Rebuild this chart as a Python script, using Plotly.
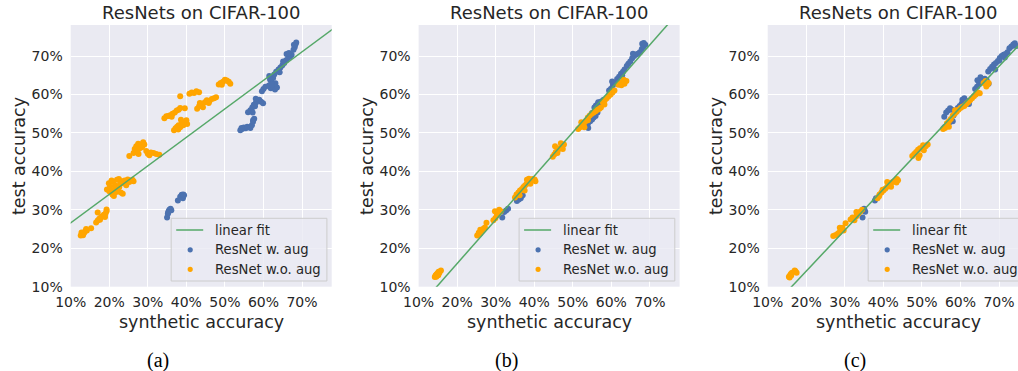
import plotly.graph_objects as go

W, H = 1018, 371

# ---------------- data (percent) ----------------
A_AUG = [(35.0,28.0),(35.2,29.0),(35.4,29.6),(35.6,30.0),(35.9,30.3),(36.1,29.9),(35.3,29.3),
         (37.8,32.4),(38.4,33.4),(38.8,33.9),(39.1,33.0),(39.4,33.8),(39.2,34.0),
         (54.0,50.7),(54.5,51.0),(54.9,51.4),(55.4,51.2),(55.8,51.6),(54.3,51.3),
         (56.6,51.3),(57.0,52.0),(57.3,52.9),(57.6,53.7),(57.3,53.3),
         (56.0,55.4),(56.6,55.9),(57.1,56.6),(57.5,57.3),(58.0,57.8),(58.4,58.3),(58.9,58.6),
         (59.4,58.1),(59.9,57.7),(58.0,58.9),(57.2,55.3),(57.8,56.9),
         (59.6,60.8),(60.0,61.4),(60.5,62.0),
         (61.4,62.3),(61.9,61.6),(62.4,61.9),(63.0,61.3),(63.5,61.8),(62.0,63.4),(62.5,64.3),
         (61.7,63.9),(61.5,64.8),(63.1,62.9),(62.2,62.6),
         (62.8,65.2),(63.3,65.9),(63.9,66.5),(64.4,67.0),(64.9,67.6),(65.4,68.2),(65.9,68.9),
         (66.4,69.5),(66.9,69.9),(67.3,70.3),(66.0,70.5),(65.1,68.6),(64.2,65.8),(66.6,70.8),
         (67.8,71.6),(68.1,72.3),(68.3,73.0),(68.5,73.5),(67.9,72.9)]
A_NOAUG = [(12.6,23.3),(12.9,23.6),(13.2,23.4),(13.5,24.0),(13.8,24.5),(14.0,25.0),(13.3,23.9),
           (12.8,24.1),(15.3,25.2),(14.2,24.6),
           (16.6,26.7),(17.0,27.2),(17.4,27.7),(17.8,28.0),(18.2,28.3),(18.6,28.7),(19.0,29.0),
           (19.3,29.6),(19.3,30.1),(17.0,29.3),(18.9,28.1),(17.6,27.4),
           (19.4,35.3),(19.9,36.9),(20.2,36.0),(20.5,35.0),(20.8,34.0),(21.0,37.3),(21.2,33.6),
           (21.5,36.4),(21.8,34.6),(22.0,37.8),(22.2,35.2),(22.5,38.0),(22.8,36.7),(23.0,34.5),
           (23.2,37.4),(23.5,34.2),(23.8,36.9),(24.0,37.6),(24.4,36.4),(24.8,37.9),(25.2,37.2),
           (26.0,37.8),(26.3,37.4),(20.6,37.6),(21.6,35.7),(22.6,35.9),(20.0,34.8),(21.0,34.4),
           (25.2,44.0),(26.3,44.8),(26.6,45.8),(27.0,46.5),(27.3,45.2),(27.6,44.5),(27.9,46.0),
           (28.2,47.0),(28.5,46.3),(28.8,47.6),(29.1,47.0),(29.6,45.3),(30.0,44.6),(30.4,44.2),
           (30.8,44.9),(31.5,44.8),(32.2,44.5),(33.0,44.3),(27.5,47.2),
           (34.3,53.8),(34.8,54.3),(35.3,54.4),(35.8,54.6),(36.4,55.0),(37.0,55.3),(37.5,55.8),
           (38.0,56.0),(38.4,56.5),(36.2,54.2),(39.6,56.4),
           (36.8,50.7),(37.2,51.2),(37.6,51.6),(38.0,52.0),(38.4,51.5),(38.8,52.4),(39.2,52.0),
           (39.6,52.8),(40.0,53.3),(40.2,52.3),(38.6,53.4),(37.9,50.9),
           (38.4,59.5),
           (40.8,60.2),(41.4,60.5),(42.0,60.4),(42.6,60.8),(43.3,60.6),
           (42.8,56.3),(43.3,56.9),(43.8,57.6),(44.3,56.7),(44.8,58.0),(45.3,58.5),(46.0,58.3),
           (46.6,58.8),(47.2,59.0),(47.7,59.3),(43.5,57.8),(45.8,57.8),
           (48.4,62.6),(48.9,63.0),(49.5,63.3),(50.0,63.8),(50.5,63.6),(51.0,63.3),(51.4,62.8),(49.2,62.5)]

B_AUG = [(31.7,28.0),(32.2,29.4),(32.7,29.8),(33.2,30.3),
         (35.5,32.3),(36.0,32.7),(36.5,33.0),(37.0,33.8),
         (53.4,51.9),(53.9,52.4),(54.5,53.0),(55.0,53.5),(55.4,54.0),(55.9,54.4),(56.4,55.3),
         (55.0,55.2),(54.0,51.3),
         (55.6,56.6),(56.0,57.1),(56.5,57.6),(57.0,58.0),(57.5,58.2),(58.0,58.6),(56.6,58.0),(57.4,57.4),
         (59.4,61.0),(59.9,61.5),(60.4,62.4),(60.9,62.9),(61.4,63.3),(60.2,63.4),(59.6,60.4),
         (61.5,64.0),(62.0,64.6),(62.5,65.4),(63.0,65.9),(63.4,66.5),(62.8,65.0),
         (64.0,67.4),(64.4,68.0),(64.9,68.6),(65.4,69.4),(65.9,70.0),(66.4,70.4),(66.9,70.6),
         (67.4,71.0),(67.9,71.8),(68.3,72.4),(68.8,72.9),(68.4,73.4),(68.0,73.2),(65.6,70.6)]
B_NOAUG = [(14.2,12.5),(14.4,12.9),(14.6,13.2),(14.9,13.5),(15.1,13.0),(15.4,13.6),(15.8,14.2),
           (14.6,12.6),(15.2,13.9),
           (25.2,23.3),(25.6,24.0),(26.0,24.8),(26.4,24.6),(26.8,25.1),(27.2,25.4),(27.6,26.6),(25.9,23.8),
           (29.4,27.3),(29.9,27.8),(30.3,28.6),(30.7,29.0),(30.9,30.0),(31.3,29.6),(30.2,29.3),(29.8,29.6),
           (35.0,33.2),(35.4,34.0),(35.9,34.5),(36.3,35.0),(36.8,35.4),(37.2,35.9),(37.6,36.3),
           (38.0,36.7),(38.4,37.1),(38.8,37.5),(39.2,37.8),(39.6,38.0),(40.1,37.9),(40.3,37.4),
           (38.1,37.8),(39.0,36.8),(37.5,35.0),(36.2,33.8),(38.6,38.1),
           (44.8,43.8),(45.2,44.4),(45.6,45.0),(46.1,45.4),(46.6,46.0),(47.1,46.5),(47.7,47.0),
           (45.4,46.5),(46.0,44.8),(47.4,45.8),(46.9,47.3),
           (51.4,51.0),(51.9,51.5),(52.4,52.0),(52.9,52.6),(53.4,53.1),(53.9,54.0),(54.4,54.5),
           (54.9,55.0),(55.4,55.3),(55.9,55.6),(56.4,56.0),(56.9,56.3),(57.3,56.6),(53.9,53.3),
           (53.0,51.5),(52.2,52.8),
           (57.8,58.0),(58.3,58.5),(58.8,59.0),(59.3,59.5),(59.8,60.0),(60.3,60.5),(60.8,61.0),(58.2,57.4),
           (61.8,62.5),(62.4,63.0),(62.9,63.2),(63.4,62.8),(63.9,63.5),(62.6,62.4),(63.2,63.8)]

C_AUG = [(34.6,28.0),(35.0,30.3),(35.3,29.5),(35.1,29.9),
         (37.8,32.4),(38.1,33.0),
         (55.8,54.2),(56.3,55.3),(56.8,55.8),(57.3,56.4),(57.8,56.0),(56.0,51.6),(56.6,52.3),
         (57.2,52.8),(57.6,53.3),(58.0,53.0),(55.6,51.2),
         (58.2,54.5),(58.8,55.5),(59.3,56.5),(59.8,57.0),(60.3,57.6),(60.8,58.0),(61.3,57.8),
         (61.8,58.3),(60.5,58.6),(61.0,59.0),(62.2,57.5),
         (63.8,61.4),(64.3,62.0),(64.8,62.6),(65.3,63.2),(65.8,63.6),(66.3,64.1),(66.8,63.7),
         (67.3,62.8),(65.2,64.5),(64.4,63.7),
         (67.2,66.0),(67.7,66.6),(68.2,67.2),(68.7,67.8),(69.2,68.2),(69.7,68.7),(70.2,69.5),
         (70.7,70.0),(71.2,70.3),(71.7,70.5),(72.2,71.0),(72.7,72.0),(73.2,72.5),(73.7,73.0),
         (74.1,73.3),(74.4,72.6),(70.1,68.8),(71.5,69.6),(69.0,66.5)]
C_NOAUG = [(15.5,12.6),(15.8,13.0),(16.0,13.3),(16.3,13.6),(15.7,12.4),(16.1,12.9),(17.2,14.0),
           (17.5,13.6),(17.0,14.2),
           (27.0,23.2),(27.5,23.4),(28.0,23.6),(28.5,24.0),(29.0,24.8),(29.4,25.3),(29.7,24.6),
           (30.2,26.5),(28.7,25.3),(28.2,23.8),
           (31.5,27.5),(32.0,28.0),(32.5,27.3),(33.0,28.3),(33.5,29.0),(34.0,29.5),(34.5,30.0),
           (33.0,29.4),(32.2,27.6),
           (38.5,33.0),(39.0,34.0),(39.5,34.5),(40.0,35.0),(40.5,35.5),(41.0,36.0),(41.5,36.5),
           (42.0,37.0),(42.5,37.3),(43.0,37.5),(43.5,38.0),(41.0,37.2),(42.0,36.0),(43.4,37.1),
           (39.8,35.2),(38.9,33.5),(43.8,37.7),
           (47.5,44.0),(48.0,44.5),(48.5,45.0),(49.0,45.6),(49.5,46.0),(50.0,46.1),(50.5,45.5),
           (51.0,46.5),(51.5,47.0),(49.4,44.2),(49.1,43.5),(50.3,46.8),
           (55.5,51.0),(56.0,51.3),(56.5,52.5),(57.0,53.0),(57.5,53.6),(58.0,54.5),(58.5,55.0),
           (59.0,55.5),(59.5,56.0),(60.0,56.5),(60.5,56.8),(57.0,51.6),(58.6,55.9),
           (61.0,57.0),(61.5,57.5),(62.0,58.0),(62.5,58.5),(63.0,59.0),(63.5,59.5),(64.0,60.0),
           (64.5,60.5),(65.0,60.3),
           (66.0,63.0),(66.5,63.5),(67.0,62.5),(67.3,63.0),(66.7,62.1)]

# linear fit (slope, intercept)
FITS = [(0.7415, 19.185), (1.138, -6.73), (1.065, -7.25)]

PANEL_LABELS = ["(a)", "(b)", "(c)"]
TITLE = "ResNets on CIFAR-100"
TICKS = [10, 20, 30, 40, 50, 60, 70]
TICK_TEXT = ["10%", "20%", "30%", "40%", "50%", "60%", "70%"]
LEGEND_NAMES = ["linear fit", "ResNet w. aug", "ResNet w.o. aug"]

# ---------------- layout geometry (pixels) ----------------
PLOT_TOP, PLOT_BOT = 25.0, 286.7
PANEL_LEFT = [70.7, 418.6, 767.7]
PANEL_W = 261.0
X_PER_PX = 67.7 / PANEL_W
Y_MAX = 10 + (PLOT_BOT - PLOT_TOP) / 38.45 * 10

BLUE = "#4C72B0"
ORANGE = "#FFA500"
GREEN = "#55A868"
TXT = "#262626"
FONT = "DejaVu Sans"

def px(x):
    return x / W

def py(y):
    return 1 - y / H

fig = go.Figure()
shapes = []
panels = [(A_AUG, A_NOAUG), (B_AUG, B_NOAUG), (C_AUG, C_NOAUG)]
for i, (aug, noaug) in enumerate(panels):
    n = i + 1
    xa = "x" if n == 1 else f"x{n}"
    ya = "y" if n == 1 else f"y{n}"
    left = PANEL_LEFT[i]
    right = min(left + PANEL_W, W)
    xmax = 10 + (right - left) * X_PER_PX
    fig.add_trace(go.Scatter(x=[p[0] for p in aug], y=[p[1] for p in aug], mode="markers",
                             marker=dict(color=BLUE, size=6, line=dict(width=0)),
                             name=LEGEND_NAMES[1], xaxis=xa, yaxis=ya, showlegend=False))
    fig.add_trace(go.Scatter(x=[p[0] for p in noaug], y=[p[1] for p in noaug], mode="markers",
                             marker=dict(color=ORANGE, size=6, line=dict(width=0)),
                             name=LEGEND_NAMES[2], xaxis=xa, yaxis=ya, showlegend=False))
    s, b = FITS[i]
    lx = [0, 100]
    fig.add_trace(go.Scatter(x=lx, y=[s * v + b for v in lx], mode="lines",
                             line=dict(color=GREEN, width=1.5), name=LEGEND_NAMES[0],
                             xaxis=xa, yaxis=ya, showlegend=False))
    axis_common = dict(showgrid=True, gridcolor="white", gridwidth=1.3, zeroline=False,
                       showline=False, ticks="", tickmode="array", tickvals=TICKS,
                       ticktext=TICK_TEXT, automargin=False,
                       tickfont=dict(family=FONT, size=14, color=TXT))
    fig.update_layout(**{
        ("xaxis" if n == 1 else f"xaxis{n}"): dict(domain=[px(left), px(right)], range=[10, xmax],
                                                   anchor=ya, ticklabelstandoff=5, **axis_common),
        ("yaxis" if n == 1 else f"yaxis{n}"): dict(domain=[py(PLOT_BOT), py(PLOT_TOP)], range=[10, Y_MAX],
                                                   anchor=xa, ticklabelstandoff=7, **axis_common),
    })
    cx = left + PANEL_W / 2
    fig.add_annotation(text=TITLE, x=px(cx), y=py(12.5), xref="paper", yref="paper",
                       showarrow=False, xanchor="center", yanchor="middle",
                       font=dict(family=FONT, size=18, color=TXT))
    fig.add_annotation(text="synthetic accuracy", x=px(cx), y=py(321.5), xref="paper", yref="paper",
                       showarrow=False, xanchor="center", yanchor="middle",
                       font=dict(family=FONT, size=17.5, color=TXT))
    fig.add_annotation(text="test accuracy", x=px(left - 51.5), y=py((PLOT_TOP + PLOT_BOT) / 2),
                       xref="paper", yref="paper", showarrow=False, textangle=-90,
                       xanchor="center", yanchor="middle",
                       font=dict(family=FONT, size=17.5, color=TXT))
    fig.add_annotation(text=PANEL_LABELS[i], x=px([157.7, 506.7, 855.0][i]), y=py(360.0),
                       xref="paper", yref="paper", showarrow=False, xanchor="center",
                       yanchor="middle", font=dict(family="Liberation Serif", size=20, color="black"))

    # legend box (drawn in paper space)
    L = left + 100.5
    T, B = 218.3, 281.0
    shapes.append(dict(type="rect", xref="paper", yref="paper", x0=px(L), x1=px(L + 155.7),
                       y0=py(B), y1=py(T), fillcolor="rgba(234,234,242,0.8)",
                       line=dict(color="#CCCCCC", width=1), layer="above"))
    rows = [230.0, 249.8, 269.3]
    shapes.append(dict(type="line", xref="paper", yref="paper", x0=px(L + 5), x1=px(L + 32),
                       y0=py(rows[0]), y1=py(rows[0]), line=dict(color=GREEN, width=1.5),
                       layer="above"))
    for r, col in zip(rows[1:], [BLUE, ORANGE]):
        shapes.append(dict(type="circle", xref="paper", yref="paper", xsizemode="pixel",
                           ysizemode="pixel", xanchor=px(L + 19), yanchor=py(r),
                           x0=-2.6, x1=2.6, y0=-2.6, y1=2.6, fillcolor=col,
                           line=dict(width=0), layer="above"))
    for r, name in zip(rows, LEGEND_NAMES):
        fig.add_annotation(text=name, x=px(L + 42), y=py(r), xref="paper", yref="paper",
                           showarrow=False, xanchor="left", yanchor="middle",
                           font=dict(family=FONT, size=13.2, color=TXT))

fig.update_layout(width=W, height=H, autosize=False, margin=dict(l=0, r=0, t=0, b=0),
                  paper_bgcolor="white", plot_bgcolor="#EAEAF2", showlegend=False,
                  shapes=shapes)
fig.write_html("out.html", config={"displayModeBar": False},
               post_script="document.body.style.margin='0';document.body.style.padding='0';")
